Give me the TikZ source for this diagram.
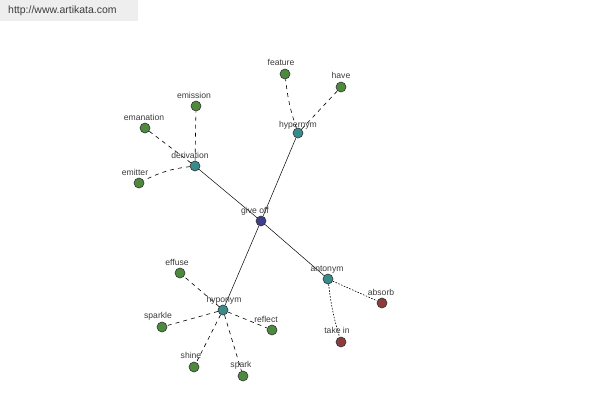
\documentclass[tikz,border=0pt]{standalone}
\usepackage{fontspec}
\setmainfont{Liberation Sans}
\definecolor{cgreen}{RGB}{78,138,62}
\definecolor{cteal}{RGB}{58,140,140}
\definecolor{cblue}{RGB}{62,62,140}
\definecolor{cred}{RGB}{140,60,60}
\definecolor{ctext}{RGB}{60,60,60}
\definecolor{cbg}{RGB}{238,238,238}
\begin{document}
\begin{tikzpicture}[x=1pt,y=-1pt,
  dot/.style={circle,draw=black!80,line width=0.6pt,minimum size=10pt,inner sep=0pt},
  gn/.style={dot,fill=cgreen},
  tl/.style={dot,fill=cteal},
  bl/.style={dot,fill=cblue},
  rd/.style={dot,fill=cred},
  lbl/.style={font=\fontsize{8.6}{10}\selectfont,text=ctext,inner sep=0pt,anchor=base},
  solidedge/.style={draw=black,line width=0.5pt},
  dashedge/.style={draw=black,line width=0.6pt,dash pattern=on 4pt off 4pt},
  dotedge/.style={draw=black,line width=0.6pt,dash pattern=on 1.5pt off 1.5pt}]
\useasboundingbox (0,0) rectangle (600,400);
\fill[white] (0,0) rectangle (600,400);
\fill[cbg] (0,0) rectangle (138,21);
\node[font=\fontsize{10.5}{12}\selectfont,text=ctext,anchor=west,inner sep=0pt] (url) at (8,11) {http://www.artikata.com};
% nodes
\node[bl] (giveoff) at (261,221) {};
\node[tl] (hypernym) at (298,133) {};
\node[tl] (derivation) at (195,166) {};
\node[tl] (hyponym) at (223,310) {};
\node[tl] (antonym) at (328,279) {};
\node[gn] (feature) at (285,74) {};
\node[gn] (have) at (341,87) {};
\node[gn] (emission) at (196,106) {};
\node[gn] (emanation) at (145,128) {};
\node[gn] (emitter) at (139,183) {};
\node[gn] (effuse) at (180,273) {};
\node[gn] (sparkle) at (162,327) {};
\node[gn] (shine) at (194,367) {};
\node[gn] (spark) at (243,376) {};
\node[gn] (reflect) at (272,330) {};
\node[rd] (absorb) at (382,303) {};
\node[rd] (takein) at (341,342) {};
% edges
\draw[solidedge] (giveoff) -- (hypernym);
\draw[solidedge] (giveoff) -- (derivation);
\draw[solidedge] (giveoff) -- (hyponym);
\draw[solidedge] (giveoff) -- (antonym);
\draw[dashedge] (hypernym) to[bend left=6] (feature);
\draw[dashedge] (hypernym) -- (have);
\draw[dashedge] (derivation) -- (emission);
\draw[dashedge] (derivation) -- (emanation);
\draw[dashedge] (derivation) to[bend right=10] (emitter);
\draw[dashedge] (hyponym) -- (effuse);
\draw[dashedge] (hyponym) -- (sparkle);
\draw[dashedge] (hyponym) -- (shine);
\draw[dashedge] (hyponym) -- (spark);
\draw[dashedge] (hyponym) -- (reflect);
\draw[dotedge] (antonym) -- (absorb);
\draw[dotedge] (antonym) to[bend right=5] (takein);
% labels
\node[lbl] (lgiveoff) at (255,213) {give off};
\node[lbl] (lhypernym) at (298,127) {hypernym};
\node[lbl] (lderivation) at (190,158) {derivation};
\node[lbl] (lhyponym) at (224,302) {hyponym};
\node[lbl] (lantonym) at (327,271) {antonym};
\node[lbl] (lfeature) at (281,65) {feature};
\node[lbl] (lhave) at (341,78) {have};
\node[lbl] (lemission) at (194,98) {emission};
\node[lbl] (lemanation) at (144,120) {emanation};
\node[lbl] (lemitter) at (135,175) {emitter};
\node[lbl] (leffuse) at (177,265) {effuse};
\node[lbl] (lsparkle) at (158,318) {sparkle};
\node[lbl] (lshine) at (191,358) {shine};
\node[lbl] (lspark) at (241,367) {spark};
\node[lbl] (lreflect) at (266,322) {reflect};
\node[lbl] (labsorb) at (381,295) {absorb};
\node[lbl] (ltakein) at (337,333) {take in};
\end{tikzpicture}
\end{document}
